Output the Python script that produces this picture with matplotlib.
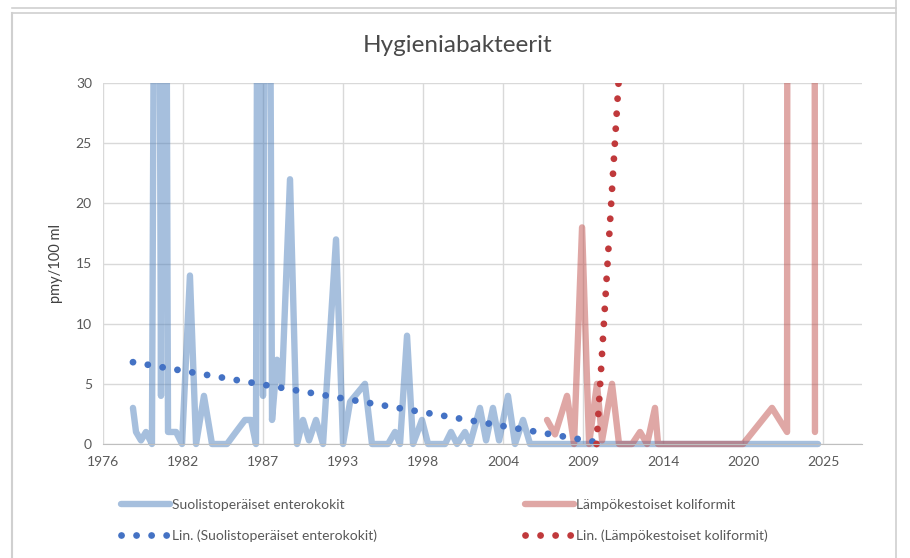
import numpy as np
import matplotlib
matplotlib.use('Agg')
import matplotlib.pyplot as plt
from matplotlib.lines import Line2D
from matplotlib.transforms import Bbox, TransformedBbox

plt.rcParams['font.family'] = ['Lato', 'DejaVu Sans']

# Suolistoperäiset enterokokit (decimal year, pmy/100 ml), spikes over 30 run off the chart
entero_year = [1978.72, 1978.93, 1979.27, 1979.61, 1980.02, 1980.37, 1980.64, 1980.85,
               1981.12, 1981.67, 1982.08, 1982.62, 1983.04, 1983.58, 1984.13, 1985.16,
               1985.77, 1986.39, 1986.80, 1987.14, 1987.35, 1987.62, 1987.90, 1988.24,
               1988.58, 1988.92, 1989.47, 1989.95, 1990.36, 1990.77, 1991.25, 1991.73,
               1992.62, 1993.10, 1993.58, 1994.60, 1995.08, 1996.18, 1996.66, 1997.00,
               1997.48, 1997.89, 1998.50, 1998.92, 2000.08, 2000.49, 2000.90, 2001.45,
               2001.79, 2002.47, 2002.89, 2003.36, 2003.78, 2004.39, 2004.87, 2005.42,
               2005.90, 2006.92, 2010.69, 2017.53, 2025.61]
entero_val = [3, 1, 0.3, 1, 0, 100, 4, 100,
              1, 1, 0, 14, 0, 4, 0, 0,
              1, 2, 2, 0, 100, 4, 100, 2,
              7, 5, 22, 0, 2, 0.3, 2, 0,
              17, 0, 3.5, 5, 0, 0, 1, 0,
              9, 0, 2, 0, 0, 1, 0, 1,
              0, 3, 0.3, 3, 0.3, 4, 0, 2,
              0, 0, 0, 0, 0]

# Lämpökestoiset koliformit
koli_year = [2007.06, 2007.61, 2008.43, 2008.91, 2009.46, 2009.94, 2010.48, 2010.83,
             2011.51, 2011.99, 2012.88, 2013.43, 2013.91, 2014.45, 2014.66, 2020.48,
             2022.46, 2023.49, 2024.45, 2025.40]
koli_val = [2, 0.8, 4, 0, 18, 0, 5, 0.3,
            5, 0, 0, 1, 0, 3, 0, 0,
            3, 1, 2000, 1]

# linear trend lines, read where they show inside the plot
entero_trend_year = [1978.72, 2011.17]
entero_trend_val = [6.8, 0.0]
koli_trend_year = [2010.45, 2012.03]
koli_trend_val = [0.0, 31.5]

x_ticks = [1976.67, 1982.15, 1987.62, 1993.10, 1998.57, 2004.05, 2009.52, 2015.00, 2020.48, 2025.95]
x_labels = ['1976', '1982', '1987', '1993', '1998', '2004', '2009', '2014', '2020', '2025']
y_ticks = [0, 5, 10, 15, 20, 25, 30]

blue = '#4F81BD'
red = '#C0504D'
blue_dot = '#4472C4'
red_dot = '#C0393B'
txt = '#595959'
grid = '#D9D9D9'

fig = plt.figure(figsize=(9.1, 5.58), dpi=100)
ax = fig.add_axes([103 / 910, 1 - 444 / 558, 759 / 910, 361 / 558])

clip = TransformedBbox(Bbox([[-0.01, -0.02], [1.01, 1.0]]), ax.transAxes)

lw = 4.6
l1, = ax.plot(entero_year, entero_val, color=blue, alpha=0.5, lw=lw,
              solid_joinstyle='round', solid_capstyle='round')
l2, = ax.plot(koli_year, koli_val, color=red, alpha=0.5, lw=lw,
              solid_joinstyle='round', solid_capstyle='round')
dots = (0, (0.01, 2.2))
dlw = 4.9
l3, = ax.plot(entero_trend_year, entero_trend_val, color=blue_dot, lw=dlw,
              linestyle=dots, dash_capstyle='round')
l4, = ax.plot(koli_trend_year, koli_trend_val, color=red_dot, lw=dlw,
              linestyle=dots, dash_capstyle='round')
for ln in (l1, l2, l3, l4):
    ln.set_clip_box(clip)

ax.set_xlim(1976.67, 2028.62)
ax.set_ylim(0, 30)
ax.set_xticks(x_ticks)
ax.set_xticklabels(x_labels)
ax.set_yticks(y_ticks)
ax.grid(True, color=grid, lw=1)
ax.set_axisbelow(True)
for s in ['top', 'right', 'left']:
    ax.spines[s].set_visible(False)
ax.spines['bottom'].set_color('#BFBFBF')
ax.tick_params(length=0, labelsize=10, colors=txt)
ax.tick_params(axis='x', pad=9)
ax.tick_params(axis='y', pad=8)

ax.set_ylabel('pmy/100 ml', fontsize=10.5, color='#404040', labelpad=9)
fig.text(0.503, 1 - 45 / 558, 'Hygieniabakteerit', ha='center', va='center',
         fontsize=17.5, color='#4A4A4A')

def handle(c, a, ls, lw):
    return Line2D([], [], color=c, alpha=a, lw=lw, linestyle=ls,
                  dash_capstyle='round', solid_capstyle='round')

leg_kw = dict(loc='upper left', frameon=False, borderpad=0, fontsize=10,
              handlelength=3.5, handletextpad=0.2, labelspacing=1.3, labelcolor=txt)
leg1 = fig.legend([handle(blue, 0.5, '-', lw), handle(blue_dot, 1, dots, dlw)],
                  ['Suolistoperäiset enterokokit', 'Lin. (Suolistoperäiset enterokokit)'],
                  bbox_to_anchor=(114 / 910, 1 - 492 / 558), **leg_kw)
leg2 = fig.legend([handle(red, 0.5, '-', lw), handle(red_dot, 1, dots, dlw)],
                  ['Lämpökestoiset koliformit', 'Lin. (Lämpökestoiset koliformit)'],
                  bbox_to_anchor=(518 / 910, 1 - 492 / 558), **leg_kw)

# screenshot frame around the chart
frame = '#D0D0D0'
fig.add_artist(Line2D([12 / 910, 896 / 910], [1 - 8 / 558, 1 - 8 / 558], color=frame, lw=1.2))
fig.add_artist(Line2D([12 / 910, 896 / 910], [1 - 13 / 558, 1 - 13 / 558], color=frame, lw=1.2))
fig.add_artist(Line2D([12 / 910, 12 / 910], [0, 1 - 13 / 558], color=frame, lw=1.5))
fig.add_artist(Line2D([896 / 910, 896 / 910], [0, 1], color=frame, lw=1.2))

fig.savefig('out.png', dpi=100)
